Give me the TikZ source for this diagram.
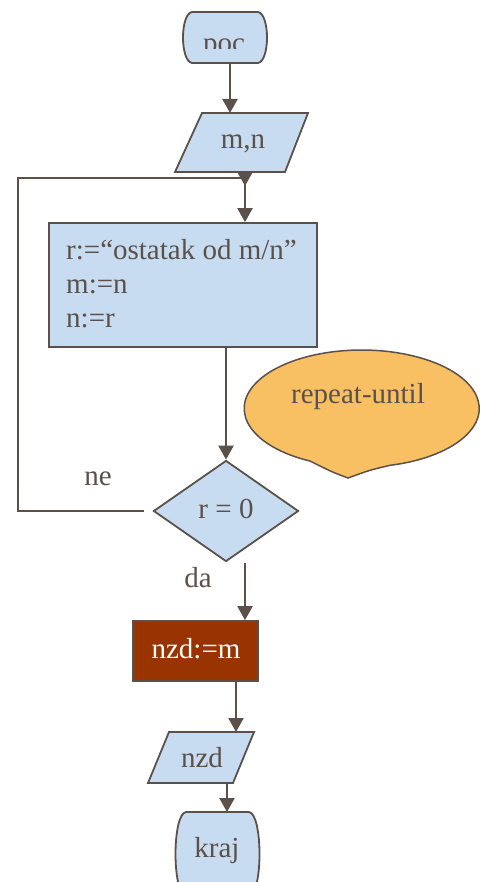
\documentclass[tikz,border=0pt]{standalone}
\usepackage{fontspec}
\setmainfont{Liberation Serif}
\usetikzlibrary{arrows.meta,shapes.geometric,calc}
\definecolor{ink}{RGB}{91,81,74}
\definecolor{blu}{RGB}{199,220,240}
\definecolor{org}{RGB}{248,192,98}
\definecolor{brn}{RGB}{153,51,0}
\begin{document}
\begin{tikzpicture}[x=1pt,y=-1pt,
  shp/.style={draw=ink,fill=blu,line width=1.8pt},
  conn/.style={draw=ink,line width=2.4pt},
  arr/.style={conn,-{Triangle[length=14pt,width=15pt]}},
  txt/.style={text=ink,font=\fontsize{29}{34}\selectfont,inner sep=0pt,anchor=base}]
\clip (0,0) rectangle (488,882);
\fill[white] (0,0) rectangle (488,882);
% start terminal
\path[shp] (192,12) -- (258,12) .. controls (270,14) and (270,61) .. (258,63) -- (192,63) .. controls (180,61) and (180,14) .. (192,12) -- cycle;
\coordinate (pocb) at (230,63);
\begin{scope}
\clip (180,12) rectangle (270,49);
\node[txt] (poc) at (224,53) {poc};
\end{scope}
% input m,n
\path[shp] (202,113) -- (308,113) -- (285,172) -- (175,172) -- cycle;
\node[txt] (mn) at (243,149) {m,n};
\coordinate (mnt) at (230,113);
\coordinate (mnb) at (245,172);
\draw[arr] (pocb) -- (mnt);
% process
\node[shp,rectangle,minimum width=268pt,minimum height=124pt,inner sep=0pt] (proc) at (183,285) {};
\node[txt,anchor=base west] (l1) at (66,259) {r:=“ostatak od m/n”};
\node[txt,anchor=base west] (l2) at (66,293) {m:=n};
\node[txt,anchor=base west] (l3) at (66,327) {n:=r};
% decision
\node[shp,diamond,aspect=1.44,minimum width=145pt,minimum height=101pt,inner sep=0pt] (dec) at (226,511) {};
\node[txt] (cond) at (226,518) {r = 0};
% loop
\coordinate (j) at (245,178);
\coordinate (jt) at (245,186);
\draw[conn] ($(dec.west)+(-9,0)$) -| (18,178) -- (j);
\draw[arr] (mnb) -- (jt);
\draw[arr] (mnb) -- (proc.north -| mnb);
\draw[arr] (proc.south -| dec.north) -- (dec.north);
\node[txt] (ne) at (98,485) {ne};
% callout
\path[draw=ink,fill=org,line width=1.5pt] (310.2,461.1) arc[start angle=116,end angle=436,x radius=117.5,y radius=58.5] .. controls (370,470) .. (348,478) .. controls (332,472) .. (310.2,461.1) -- cycle;
\node[txt] (ru) at (358,403) {repeat-until};
% result
\node[draw=ink,fill=brn,line width=1.8pt,minimum width=125pt,minimum height=60pt,inner sep=0pt] (res) at (195.5,651) {};
\node[txt,text=white] (rest) at (196,658) {nzd:=m};
\coordinate (decb) at ($(dec.south)+(19,1)$);
\draw[arr] (decb) -- (decb |- res.north);
\node[txt] (da) at (198,587) {da};
% output nzd
\path[shp] (169,732) -- (254,732) -- (233,783) -- (148,783) -- cycle;
\node[txt] (nzd) at (202,767) {nzd};
\coordinate (nzdt) at (236,732);
\draw[arr] (res.south -| nzdt) -- (nzdt);
\coordinate (nzdb) at (227,783);
% end terminal
\path[shp] (186,812) -- (249,812) .. controls (263,814) and (263,894) .. (249,896) -- (186,896) .. controls (172,894) and (172,814) .. (186,812) -- cycle;
\coordinate (krajt) at (227,812);
\node[txt] (kraj) at (217,857) {kraj};
\draw[arr] (nzdb) -- (krajt);
\end{tikzpicture}
\end{document}
